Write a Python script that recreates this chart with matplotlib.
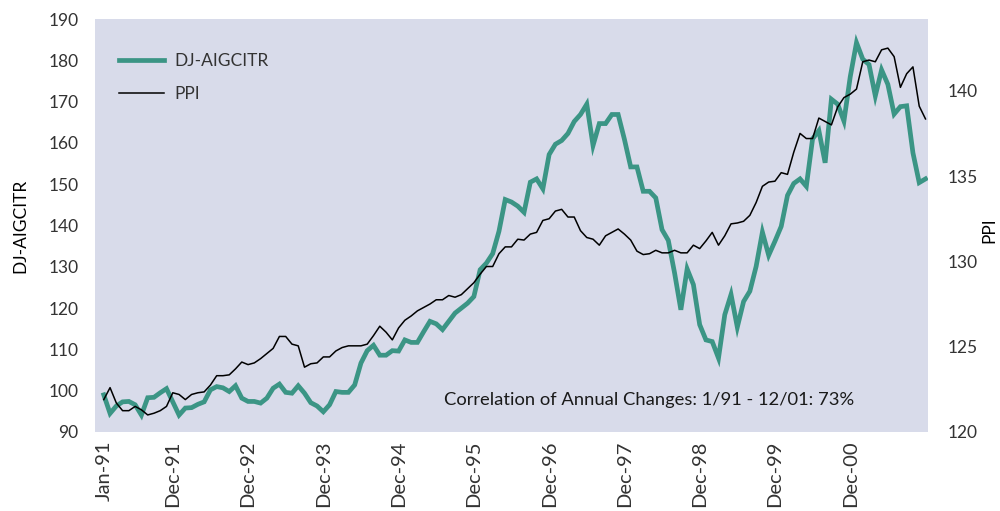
import numpy as np
import matplotlib
matplotlib.use('Agg')
import matplotlib.pyplot as plt

plt.rcParams['font.family'] = ['Lato', 'DejaVu Sans']

# monthly, Jan-91 .. Dec-01
dj_aigcitr = [
    99.0, 94.5, 96.3, 97.3, 97.4, 96.6, 94.1, 98.3, 98.4, 99.5, 100.5, 97.3,
    94.1, 95.8, 95.9, 96.7, 97.3, 100.2, 101.0, 100.7, 99.8, 101.2, 98.2, 97.4,
    97.4, 97.0, 98.2, 100.6, 101.6, 99.6, 99.4, 101.2, 99.4, 97.1, 96.3, 94.9,
    96.6, 99.8, 99.6, 99.6, 101.4, 106.7, 109.7, 111.0, 108.6, 108.6, 109.7, 109.6,
    112.3, 111.7, 111.7, 114.3, 116.8, 116.2, 114.8, 116.8, 118.8, 120.0, 121.2, 122.8,
    129.3, 130.9, 133.2, 138.6, 146.3, 145.7, 144.7, 143.2, 150.5, 151.3, 148.9, 157.2,
    159.7, 160.6, 162.3, 165.2, 166.9, 169.4, 159.4, 164.7, 164.7, 166.9, 166.9, 160.9,
    154.2, 154.2, 148.3, 148.3, 146.7, 139.0, 136.4, 128.5, 119.6, 129.5, 125.7, 116.0,
    112.3, 111.9, 107.9, 118.4, 123.3, 115.4, 121.6, 124.1, 130.1, 138.4, 132.8, 136.2,
    139.8, 147.3, 150.2, 151.3, 149.5, 161.0, 163.0, 155.2, 170.6, 169.4, 165.3, 176.0,
    184.3, 180.3, 179.0, 171.4, 177.7, 174.2, 167.0, 168.8, 169.0, 157.6, 150.4, 151.3,
]

ppi = [
    121.9, 122.6, 121.7, 121.25, 121.25, 121.5, 121.3, 121.0, 121.1, 121.25, 121.5, 122.3,
    122.2, 121.9, 122.2, 122.3, 122.35, 122.75, 123.3, 123.3, 123.35, 123.7, 124.1, 123.95,
    124.05, 124.3, 124.6, 124.9, 125.6, 125.6, 125.15, 125.05, 123.8, 124.0, 124.05, 124.4,
    124.4, 124.75, 124.95, 125.05, 125.05, 125.05, 125.15, 125.65, 126.2, 125.85, 125.4, 126.1,
    126.55, 126.8, 127.1, 127.3, 127.5, 127.75, 127.75, 128.0, 127.9, 128.05, 128.4, 128.75,
    129.25, 129.7, 129.7, 130.45, 130.85, 130.85, 131.3, 131.25, 131.6, 131.7, 132.4, 132.5,
    132.95, 133.05, 132.6, 132.6, 131.8, 131.4, 131.3, 130.95, 131.5, 131.7, 131.9, 131.6,
    131.25, 130.6, 130.4, 130.45, 130.65, 130.5, 130.5, 130.65, 130.5, 130.5, 130.95, 130.75,
    131.2, 131.7, 130.95, 131.5, 132.2, 132.25, 132.35, 132.7, 133.45, 134.4, 134.65, 134.7,
    135.2, 135.1, 136.4, 137.5, 137.2, 137.2, 138.4, 138.2, 138.0, 139.05, 139.6, 139.8,
    140.1, 141.7, 141.8, 141.7, 142.4, 142.5, 142.0, 140.2, 141.0, 141.4, 139.1, 138.35,
]

tick_pos = [0] + [11 + 12 * k for k in range(10)]
tick_labels = ['Jan-91', 'Dec-91', 'Dec-92', 'Dec-93', 'Dec-94', 'Dec-95',
               'Dec-96', 'Dec-97', 'Dec-98', 'Dec-99', 'Dec-00']

x = np.arange(len(dj_aigcitr))
txt = '#333333'

fig = plt.figure(figsize=(10, 5.11), dpi=100)
ax = fig.add_axes([0.095, 0.1546, 0.833, 0.808])
ax.set_facecolor('#d8dbea')
ax2 = ax.twinx()

l1, = ax.plot(x, dj_aigcitr, color='#3b9585', lw=3.4, solid_joinstyle='miter')
l2, = ax2.plot(x, ppi, color='black', lw=1.1)

ax.set_xlim(-1.4, 131.4)
ax.set_ylim(90, 190)
ax.set_yticks(range(90, 191, 10))
ax2.set_ylim(120, 144.2)
ax2.set_yticks(range(120, 141, 5))

ax.set_xticks(tick_pos)
ax.set_xticklabels(tick_labels, rotation=90, va='top', ha='center')

for a in (ax, ax2):
    for s in a.spines.values():
        s.set_visible(False)
    a.tick_params(length=0, labelsize=12.5, colors=txt)
ax.tick_params(axis='y', pad=12)
ax.tick_params(axis='x', pad=6, labelsize=14.5)
ax2.tick_params(axis='y', pad=14)

ax.set_ylabel('DJ-AIGCITR', fontsize=12.5, color='black', labelpad=14)
# right axis title placed directly so it stays inside the figure
fig.text(0.989, 0.55, 'PPI', rotation=90, ha='center', va='center',
         fontsize=12.5, color='black')

leg = ax2.legend([l1, l2], ['DJ-AIGCITR', 'PPI'], loc='upper left',
                 bbox_to_anchor=(0.01, 0.955), frameon=False, fontsize=12.5,
                 handlelength=2.6, handletextpad=0.6, labelspacing=0.95)
for t in leg.get_texts():
    t.set_color(txt)

ax.text(0.665, 0.077, 'Correlation of Annual Changes: 1/91 - 12/01: 73%',
        transform=ax.transAxes, ha='center', va='center', fontsize=13.2,
        color='#1a1a1a')

fig.savefig('out.png', dpi=100)
